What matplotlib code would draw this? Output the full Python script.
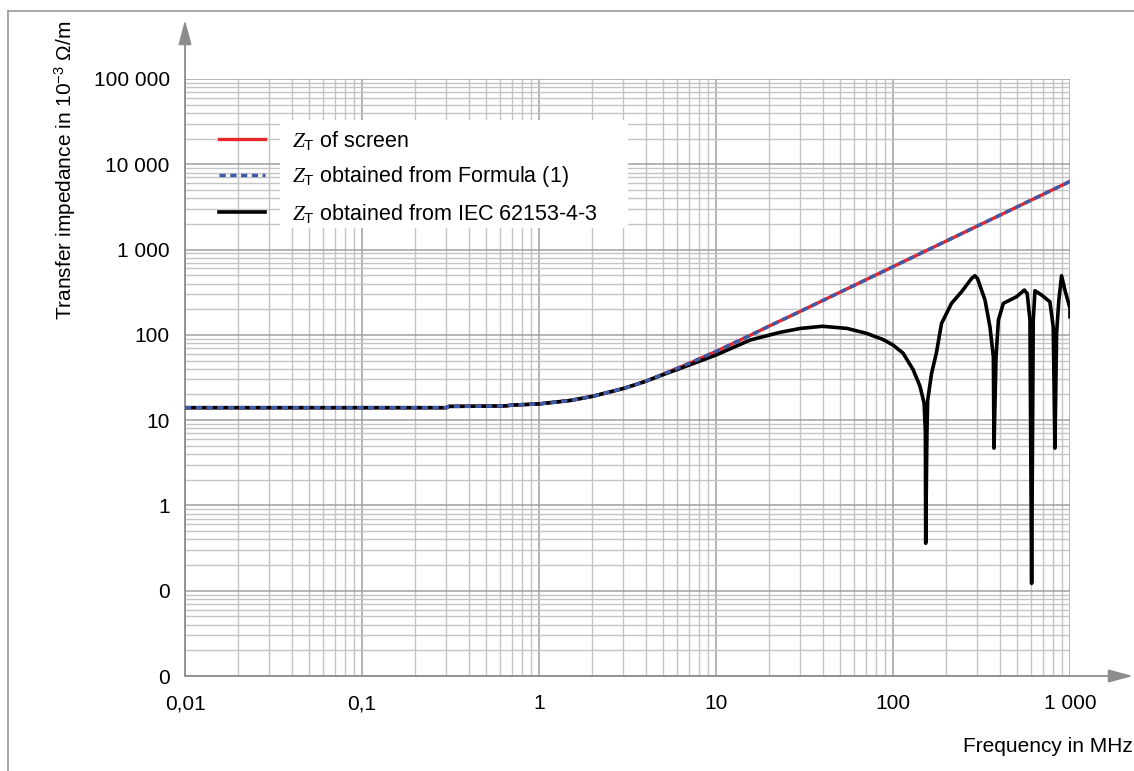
import numpy as np
import matplotlib.pyplot as plt
from matplotlib.ticker import LogLocator, NullFormatter
from matplotlib.patches import Rectangle
from matplotlib.lines import Line2D

plt.rcParams['font.family'] = ['Liberation Sans', 'DejaVu Sans']
plt.rcParams['mathtext.fontset'] = 'custom'
plt.rcParams['mathtext.it'] = 'Liberation Serif:italic'
plt.rcParams['mathtext.rm'] = 'Liberation Sans'

# Z_T of screen and Z_T from Formula (1) (MHz, 10^-3 ohm/m)
freq_screen = [0.01, 0.02, 0.05, 0.1, 0.2, 0.3, 0.31, 0.5, 0.65, 0.7, 1, 1.5, 2, 3, 4, 5, 7,
               10, 15, 20, 30, 50, 70, 100, 200, 300, 500, 700, 1000]
z_screen = [14.0, 14.0, 14.0, 14.0, 14.0, 14.0, 14.5, 14.6, 14.7, 15.0, 15.5, 17.0, 19.0, 23.5,
            28.5, 34.5, 46, 64, 95, 127, 189, 315, 441, 630, 1260, 1890, 3150, 4410, 6300]
z_formula = [14.0, 14.0, 14.0, 14.0, 14.0, 14.0, 14.5, 14.6, 14.7, 15.0, 15.5, 17.0, 19.0, 23.5,
             28.5, 34.5, 46, 64, 95, 127, 189, 315, 441, 630, 1260, 1890, 3150, 4410, 6300]

# Z_T obtained from IEC 62153-4-3
freq_iec = [0.01, 0.02, 0.05, 0.1, 0.2, 0.3, 0.31, 0.5, 0.65, 0.7, 1, 1.5, 2, 3, 4, 5, 7,
            10, 15.6, 23, 30, 40, 55, 71, 88, 100, 114, 130, 142, 150, 152.4, 153, 155.5, 157,
            165, 176, 188, 214, 244, 278, 290, 300, 331, 353, 369, 372, 382, 394, 420, 458,
            499, 552, 573, 594, 607, 620, 634, 691, 770, 804, 822, 840, 865, 896, 936, 1000,
            1000]
z_iec = [14.0, 14.0, 14.0, 14.0, 14.0, 14.0, 14.5, 14.6, 14.7, 15.0, 15.5, 17.0, 19.0, 23.5,
         28.5, 34.0, 44, 58, 87, 107, 119, 126, 119, 104, 88, 76, 61, 39, 25, 15.7, 7.1,
         0.36, 7.1, 17, 35, 62, 136, 234, 320, 459, 493, 459, 256, 124, 55, 4.7, 55, 149,
         234, 256, 280, 335, 306, 149, 0.122, 149, 329, 293, 244, 124, 4.7, 104, 256, 493,
         335, 205, 163]

xtick_values = [0.01, 0.1, 1, 10, 100, 1000]
xtick_labels = ['0,01', '0,1', '1', '10', '100', '1 000']
ytick_values = [0.01, 0.1, 1, 10, 100, 1000, 10000, 100000]
ytick_labels = ['0', '0', '1', '10', '100', '1 000', '10 000', '100 000']

W, H = 1134, 771
fig = plt.figure(figsize=(W / 100, H / 100), dpi=100)
ax = fig.add_axes([185 / W, 1 - 676 / H, 885 / W, 597 / H])
ax.set_xscale('log')
ax.set_yscale('log')
ax.set_xlim(0.01, 1000)
ax.set_ylim(0.01, 100000)

l_red, = ax.plot(freq_screen, z_screen, color='#e6282d', lw=2.4, zorder=3)
l_black, = ax.plot(freq_iec, z_iec, color='black', lw=2.6, zorder=4, solid_joinstyle='round')
l_blue, = ax.plot(freq_screen, z_formula, color='#3d5ba8', lw=2.5, ls=(0, (1.8, 1.3)),
                  dash_capstyle='butt', zorder=5)

ax.set_xticks(xtick_values)
ax.set_xticklabels(xtick_labels)
ax.set_yticks(ytick_values)
ax.set_yticklabels(ytick_labels)
ax.xaxis.set_minor_locator(LogLocator(base=10, subs=np.arange(2, 10), numticks=100))
ax.yaxis.set_minor_locator(LogLocator(base=10, subs=np.arange(2, 10), numticks=100))
ax.xaxis.set_minor_formatter(NullFormatter())
ax.yaxis.set_minor_formatter(NullFormatter())
ax.tick_params(which='both', length=0, labelsize=15)
ax.tick_params(axis='x', pad=13)
ax.tick_params(axis='y', pad=11)

ax.grid(which='major', color='#a0a0a0', lw=1.1)
ax.grid(which='minor', color='#c4c4c4', lw=1.0)
ax.set_axisbelow(True)
for s in ax.spines.values():
    s.set_visible(False)

# axis arrows
arrow_kw = dict(arrowstyle='-|>,head_length=0.75,head_width=0.2', color='#8c8c8c',
                lw=1.3, mutation_scale=20, shrinkA=0, shrinkB=0)
ax.annotate('', xy=(0, (676 - 20) / 597), xytext=(0, 0), xycoords='axes fraction',
            arrowprops=arrow_kw, annotation_clip=False)
ax.annotate('', xy=((1133 - 185) / 885, 0), xytext=(0, 0), xycoords='axes fraction',
            arrowprops=arrow_kw, annotation_clip=False)

# legend
ax.add_patch(Rectangle((0.107, 0.750), 0.393, 0.181, transform=ax.transAxes,
                       facecolor='white', edgecolor='none', zorder=2.5))
labels = [r'$Z_{\mathrm{T}}$ of screen',
          r'$Z_{\mathrm{T}}$ obtained from Formula (1)',
          r'$Z_{\mathrm{T}}$ obtained from IEC 62153-4-3']
leg = ax.legend([l_red, l_blue, l_black], labels, loc='upper left',
                bbox_to_anchor=(0.0384, 0.917), frameon=False, fontsize=15.5,
                handlelength=2.15, handletextpad=1.25, labelspacing=0.58,
                borderpad=0, borderaxespad=0)
leg.set_zorder(6)

fig.text(65 / W, 1 - 170 / H, r'Transfer impedance in 10$^{-3}$ Ω/m', rotation=90,
         ha='center', va='center', fontsize=15)
fig.text(1133 / W, 1 - 746 / H, 'Frequency in MHz', ha='right', va='center', fontsize=15)

# outer frame
fig.add_artist(Line2D([8 / W, 8 / W], [0, 1 - 11 / H], color='#9a9a9a', lw=1.2))
fig.add_artist(Line2D([8 / W, 1], [1 - 11 / H, 1 - 11 / H], color='#9a9a9a', lw=1.2))

fig.savefig('out.png', dpi=100)
